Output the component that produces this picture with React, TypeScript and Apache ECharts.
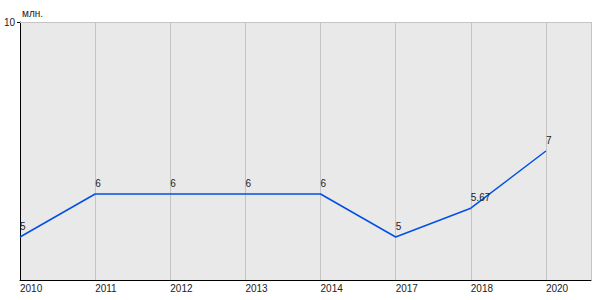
import React, { useEffect, useRef } from "react";
import * as echarts from "echarts";

const categories = ["2010", "2011", "2012", "2013", "2014", "2017", "2018", "2020"];
const values = [5, 6, 6, 6, 6, 5, 5.67, 7];
const yMin = 4;
const yMax = 10;
const yTickLabels = [10];
const unitLabel = "млн.";

export default function App() {
  const ref = useRef<HTMLDivElement>(null);
  useEffect(() => {
    if (!ref.current) return;
    const chart = echarts.init(ref.current, undefined, { renderer: "svg" });
    const font = "'Liberation Sans', Arial, sans-serif";
    chart.setOption({
      animation: false,
      textStyle: { fontFamily: font },
      grid: {
        left: 20,
        right: 9,
        top: 22,
        bottom: 20,
        show: true,
        backgroundColor: "#e9e9e9",
        borderWidth: 0,
      },
      xAxis: {
        type: "value",
        min: 0,
        max: 7.6,
        interval: 1,
        axisLine: { show: true, lineStyle: { color: "#000", width: 1 } },
        axisTick: { show: false },
        axisLabel: {
          fontSize: 10,
          color: "#222",
          fontFamily: font,
          margin: 3,
          align: "left",
          showMaxLabel: false,
          formatter: (v: number) =>
            Number.isInteger(v) && categories[v] !== undefined ? categories[v] : "",
        },
        splitLine: { show: true, lineStyle: { color: "#c4c4c4", width: 1 } },
      },
      yAxis: {
        type: "value",
        min: yMin,
        max: yMax,
        name: unitLabel,
        nameLocation: "end",
        nameGap: 4,
        nameTextStyle: {
          fontSize: 10,
          color: "#222",
          fontFamily: font,
          align: "left",
          verticalAlign: "bottom",
          padding: [0, 0, 0, 2],
        },
        axisLine: { show: true, lineStyle: { color: "#000", width: 1 } },
        axisTick: { show: true, length: 3, customValues: yTickLabels, lineStyle: { color: "#000" } },
        axisLabel: {
          fontSize: 10,
          color: "#222",
          fontFamily: font,
          margin: 5,
          customValues: yTickLabels,
        },
        splitLine: { show: false },
      },
      series: [
        {
          type: "line",
          data: values.map((v, i) => [i, v]),
          symbol: "circle",
          symbolSize: 1,
          showSymbol: true,
          itemStyle: { color: "transparent" },
          lineStyle: { color: "#0050e6", width: 1.5 },
          label: {
            show: true,
            position: "top",
            align: "left",
            distance: 5,
            fontSize: 10,
            color: "#222",
            fontFamily: font,
            formatter: (p: any) => String(p.value[1]),
          },
          markLine: {
            silent: true,
            symbol: "none",
            label: { show: false },
            lineStyle: { color: "#c4c4c4", width: 1, type: "solid" },
            data: [{ yAxis: yMax }],
          },
        },
      ],
    });
    return () => chart.dispose();
  }, []);
  return (
    <div
      ref={ref}
      style={{ position: "absolute", left: 0, top: 0, width: 600, height: 300, background: "#fff" }}
    />
  );
}
